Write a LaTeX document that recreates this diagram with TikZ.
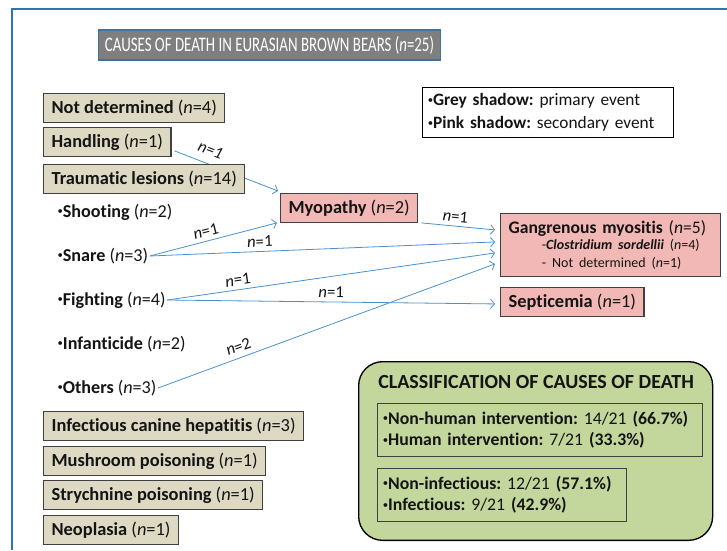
\documentclass[tikz,border=0pt]{standalone}
\usepackage{fontspec}
\setmainfont{Carlito}[Ligatures=NoCommon]
\usepackage{tikz}
\usetikzlibrary{arrows.meta}
\usetikzlibrary{positioning,calc,backgrounds}
\definecolor{frameblue}{RGB}{46,117,182}
\definecolor{titlegrey}{RGB}{127,127,127}
\definecolor{titleedge}{RGB}{65,113,156}
\definecolor{tanfill}{RGB}{221,217,195}
\definecolor{pinkfill}{RGB}{242,184,181}
\definecolor{greenfill}{RGB}{195,214,155}
\definecolor{boxline}{RGB}{64,64,64}
\definecolor{linkblue}{RGB}{75,145,208}
\definecolor{ink}{RGB}{20,20,20}
\newcommand{\dotmark}{\raisebox{0.3ex}{\fontsize{8}{8}\selectfont•}}
\frenchspacing
\tikzset{
    primary/.style={
        draw=boxline,
        fill=tanfill,
        line width=0.9pt,
        anchor=north west,
        minimum height=21.5pt,
        inner xsep=6pt,
        text=ink,
        font=\fontsize{13.8}{15}\selectfont
    },
    secondary/.style={
        primary,
        fill=pinkfill
    },
    cause/.style={
        anchor=west,
        inner sep=1pt,
        text=ink,
        font=\fontsize{13.6}{15}\selectfont
    },
    listbox/.style={
        draw=boxline,
        line width=0.7pt,
        anchor=north west,
        align=left,
        inner xsep=4pt,
        text=ink,
        font=\fontsize{13.3}{16}\selectfont
    },
    link/.style={
        draw=linkblue,
        line width=0.6pt,
        -{Straight Barb[length=3pt,width=7pt]}
    },
    count/.style={
        sloped,
        above=2pt,
        inner sep=1pt,
        text=ink,
        font=\fontsize{12.5}{14}\selectfont
    }
}

\begin{document}
\begin{tikzpicture}[x=0.75pt,y=-0.75pt]
  \useasboundingbox (0,0) rectangle (727,550);
  \draw[frameblue, line width=1.6pt] (727,9) -- (12,9) -- (12,550);

  \node[draw=titleedge, fill=titlegrey, line width=0.8pt, text=white,
        minimum width=257pt, minimum height=22.5pt,
        font=\fontsize{15.5}{17}\selectfont] (title) at (269.5,45)
    {\scalebox{0.72}[1]{CAUSES OF DEATH IN EURASIAN BROWN BEARS (\textit{n}=25)}};

  \node[listbox, draw=black, fill=white, text width=180pt, minimum height=37.5pt,
        font=\fontsize{13}{17}\selectfont] (legend) at (422,87)
    {\dotmark\textbf{Grey shadow:} primary event\\\dotmark\textbf{Pink shadow:} secondary event};

  % primary events
  \node[primary] (notdet) at (43,93) {\textbf{Not determined} (\textit{n}=4)};
  \node[primary] (handling) at (43,127) {\textbf{Handling} (\textit{n}=1)};
  \node[primary] (trauma) at (43,164) {\textbf{Traumatic lesions} (\textit{n}=14)};
  \node[primary] (hepatitis) at (43,411) {\textbf{Infectious canine hepatitis} (\textit{n}=3)};
  \node[primary] (mushroom) at (43,446) {\textbf{Mushroom poisoning} (\textit{n}=1)};
  \node[primary] (strych) at (43,480) {\textbf{Strychnine poisoning} (\textit{n}=1)};
  \node[primary] (neoplasia) at (43,515) {\textbf{Neoplasia} (\textit{n}=1)};

  \foreach \name/\what/\k/\y in {shoot/Shooting/2/212, snare/Snare/3/256,
      fight/Fighting/4/300, infant/Infanticide/2/344, others/Others/3/388} {
    \node[cause] (\name) at (56,\y) {\dotmark\textbf{\what} (\textit{n}=\k)};
  }

  % secondary events
  \node[secondary] (myopathy) at (280,193) {\textbf{Myopathy} (\textit{n}=2)};
  \node[secondary, align=left, text width=153pt, minimum height=47pt,
        inner ysep=3pt, font=\fontsize{13.2}{15}\selectfont] (gang) at (500,213)
    {\textbf{Gangrenous myositis} (\textit{n}=5)\\[-3pt]
     {\fontsize{10.5}{12}\selectfont\hspace{25pt}-\textbf{\textit{Clostridium sordellii}} (\textit{n}=4)}\\[-2pt]
     {\fontsize{10.5}{12}\selectfont\hspace{25pt}- Not determined (\textit{n}=1)}};
  \node[secondary] (septic) at (500,287) {\textbf{Septicemia} (\textit{n}=1)};

  \begin{scope}[on background layer]
    \draw[link] ($(handling.south east)+(3,-6)$) -- node[count, pos=0.3, above=5pt] {\textit{n=1}}
      ($(myopathy.north west)+(-2,-2)$);
    \draw[link] (snare.east) -- node[count, pos=0.46] {\textit{n}=1} ($(myopathy.south west)+(-3,0)$);
    \draw[link] (snare.east) -- node[count, pos=0.32] {\textit{n}=1} ($(gang.west)+(-5,-3)$);
    \draw[link] ($(myopathy.south east)+(3,0)$) -- node[count, pos=0.45] {\textit{n}=1} ($(gang.west)+(-5,-15)$);
    \draw[link] (fight.east) -- node[count, pos=0.22] {\textit{n}=1} ($(gang.west)+(-5,8)$);
    \draw[link] (fight.east) -- node[count, pos=0.5] {\textit{n}=1} ($(septic.west)+(-5,2)$);
    \draw[link] (others.east) -- node[count, pos=0.25, above=3pt] {\textit{n}=2} ($(gang.west)+(-5,19)$);
  \end{scope}

  % classification
  \node[draw=black, fill=greenfill, line width=1pt, rounded corners=18pt, anchor=north west,
        minimum width=265.5pt, minimum height=134pt] (classbox) at (358,361) {};
  \node[anchor=west, inner sep=0pt, text=ink, font=\bfseries\fontsize{15}{17}\selectfont]
    (classtitle) at (378,382) {CLASSIFICATION OF CAUSES OF DEATH};
  \node[listbox, text width=235.75pt, minimum height=39.5pt] (human) at (377,403)
    {\dotmark\textbf{Non-human intervention:} 14/21 \textbf{(66.7\%)}\\\dotmark\textbf{Human intervention:} 7/21 \textbf{(33.3\%)}};
  \node[listbox, text width=178.75pt, minimum height=39.5pt] (infect) at (377,468)
    {\dotmark\textbf{Non-infectious:} 12/21 \textbf{(57.1\%)}\\\dotmark\textbf{Infectious:} 9/21 \textbf{(42.9\%)}};
\end{tikzpicture}
\end{document}
